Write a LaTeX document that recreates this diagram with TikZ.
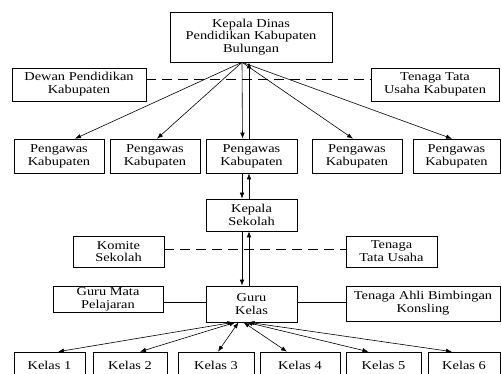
\documentclass[tikz,border=0pt]{standalone}
\usepackage{fontspec}
\setmainfont{Liberation Serif}[FakeStretch=1.2]
\usetikzlibrary{arrows.meta}

\begin{document}
\begin{tikzpicture}[x=1pt,y=-1pt,line width=0.6pt,
kotak/.style={draw,align=center,inner sep=0pt,font=\fontsize{12}{12.8}\selectfont},
panah/.style={-{Latex[length=6pt,width=4.5pt]}},
duapanah/.style={{Latex[length=6pt,width=4.5pt]}-{Latex[length=6pt,width=4.5pt]}},
putus/.style={dash pattern=on 10pt off 6pt}]
\useasboundingbox (0,0) rectangle (501,374);
\clip (0,0) rectangle (501,374);

% pimpinan dinas
\node[kotak,minimum width=162pt,minimum height=50pt] (kadis) at (251,37)
  {Kepala Dinas\\Pendidikan Kabupaten\\Bulungan};
\node[kotak,minimum width=134pt,minimum height=33pt] (dewan) at (79,84.5)
  {Dewan Pendidikan\\Kabupaten};
\node[kotak,minimum width=128pt,minimum height=33pt] (tuKab) at (435,84.5)
  {Tenaga Tata\\Usaha Kabupaten};
\draw[putus] (dewan.east |- 0,79) -- (tuKab.west |- 0,79);

% pengawas
\foreach \i/\cx/\w in {1/59/90,2/155/90,3/251.5/91,4/357/90,5/456.5/87}
  \node[kotak,minimum width=\w pt,minimum height=34pt] (pengawas\i) at (\cx,156)
    {Pengawas\\Kabupaten};
\foreach \i/\dx in {1/16,2/2,4/-4,5/-4.5}
  \draw[panah] ([xshift=-9pt]kadis.south) -- ([xshift=\dx pt]pengawas\i.north);
\draw[panah] ([xshift=-9pt]kadis.south) -- ([xshift=-9pt]pengawas3.north);
\draw[panah] ([xshift=-2.5pt]pengawas3.north) -- ([xshift=-2pt]kadis.south);

% sekolah
\node[kotak,minimum width=91pt,minimum height=32pt] (kepsek) at (251.5,215)
  {Kepala\\Sekolah};
\node[kotak,minimum width=91pt,minimum height=31pt] (komite) at (118.5,251.5)
  {Komite\\Sekolah};
\node[kotak,minimum width=91pt,minimum height=31pt] (tuSekolah) at (391.5,251.5)
  {Tenaga\\Tata Usaha};
\draw[panah] ([xshift=-9.5pt]pengawas3.south) -- ([xshift=-9.5pt]kepsek.north);
\draw[panah] ([xshift=-2.5pt]kepsek.north) -- ([xshift=-2.5pt]pengawas3.south);
\draw[putus] (komite.east |- 0,249) -- (tuSekolah.west |- 0,249);

% guru
\node[kotak,minimum width=91pt,minimum height=36pt] (guruKelas) at (251.5,304)
  {Guru\\Kelas};
\node[kotak,minimum width=110pt,minimum height=26pt] (guruMapel) at (108,299)
  {Guru Mata\\Pelajaran};
\node[kotak,minimum width=154pt,minimum height=35pt] (bk) at (423,303.5)
  {Tenaga Ahli Bimbingan\\Konsling};
\draw[panah] ([xshift=-9.5pt]kepsek.south) -- ([xshift=-9.5pt]guruKelas.north);
\draw[panah] ([xshift=-2.5pt]guruKelas.north) -- ([xshift=-2.5pt]kepsek.south);
\draw (guruMapel.east |- 0,302) -- (guruKelas.west |- 0,302);
\draw (guruKelas.east |- 0,302) -- (bk.west |- 0,302);

% kelas
\foreach \i/\cx/\w/\sx/\ex in {1/49.5/71/-18/8.5,2/130/74/-16/10,3/216/76/-13/2,
  4/300/80/-8/-13,5/383.5/75/-5/-15,6/464/72/-3/-12}
{
  \node[kotak,minimum width=\w pt,minimum height=26pt] (kelas\i) at (\cx,365)
    {Kelas \i};
  \draw[duapanah] ([xshift=\sx pt]guruKelas.south) -- ([xshift=\ex pt]kelas\i.north);
}
\end{tikzpicture}
\end{document}
